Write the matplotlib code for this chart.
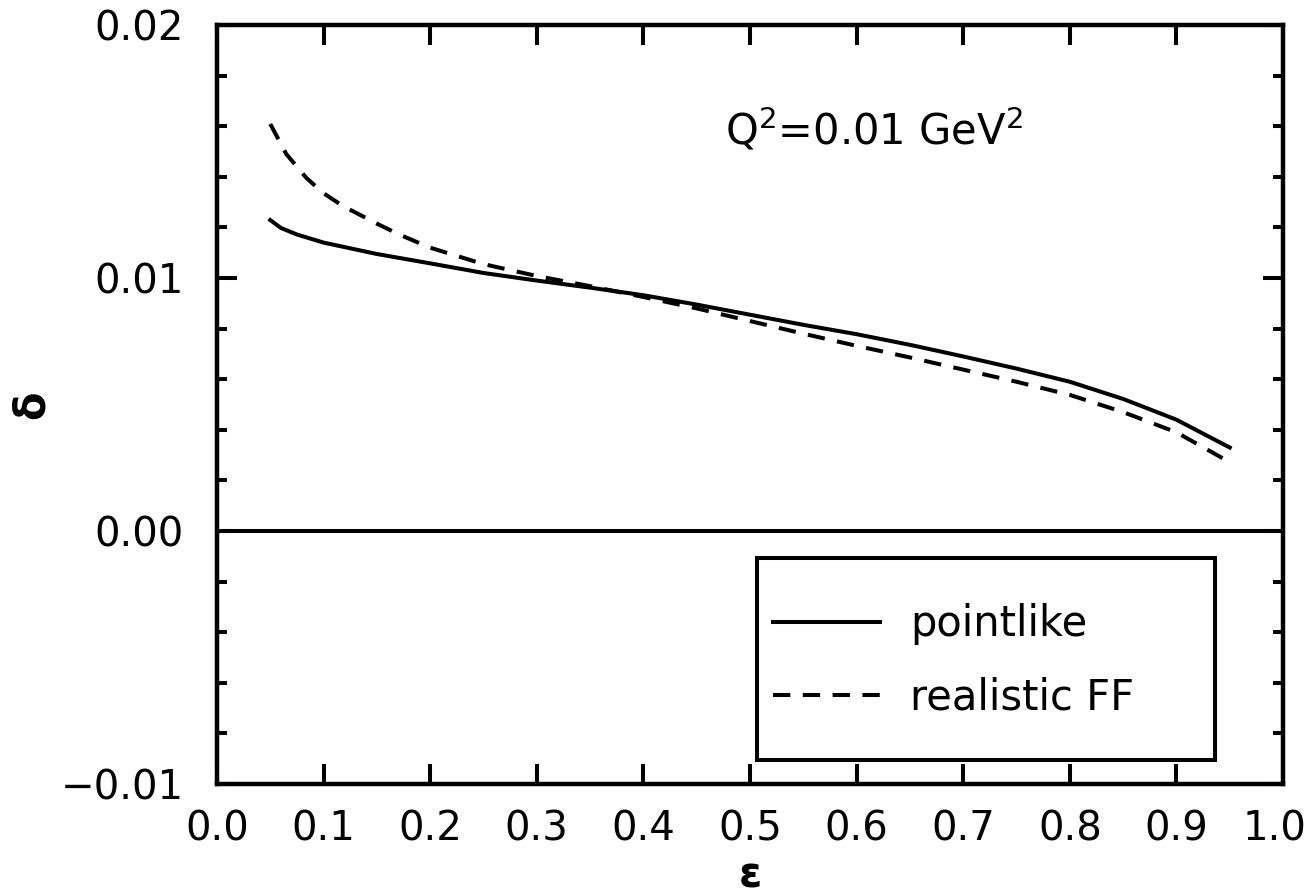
import matplotlib
matplotlib.use("Agg")
import matplotlib.pyplot as plt
from matplotlib.patches import Rectangle
from matplotlib.ticker import MultipleLocator
from matplotlib.transforms import ScaledTranslation

plt.rcParams['font.family'] = ['DejaVu Sans']
plt.rcParams['mathtext.fontset'] = 'dejavusans'

# epsilon grid and the two-photon correction delta
eps = [0.05, 0.06, 0.075, 0.10, 0.15, 0.20, 0.25, 0.30, 0.35, 0.40, 0.45,
       0.50, 0.55, 0.60, 0.65, 0.70, 0.75, 0.80, 0.85, 0.90, 0.95]
delta_point = [0.01229, 0.01198, 0.01172, 0.01140, 0.01095, 0.01058, 0.01020,
               0.00990, 0.00962, 0.00932, 0.00895, 0.00855, 0.00815, 0.00778,
               0.00736, 0.00690, 0.00642, 0.00590, 0.00522, 0.00440, 0.00330]
eps_ff = [0.05, 0.065, 0.084, 0.10, 0.118, 0.15, 0.172, 0.20, 0.25, 0.30,
          0.35, 0.40, 0.45, 0.50, 0.55, 0.60, 0.65, 0.70, 0.75, 0.80, 0.85,
          0.90, 0.95]
delta_ff = [0.01609, 0.01490, 0.01395, 0.01335, 0.01285, 0.01215, 0.01170,
            0.01120, 0.01055, 0.01008, 0.00968, 0.00925, 0.00880, 0.00830,
            0.00780, 0.00732, 0.00686, 0.00638, 0.00590, 0.00538, 0.00470,
            0.00390, 0.00272]

fs = 29
lw = 2.9
fig = plt.figure(figsize=(13.11, 8.94), dpi=100)
ax = fig.add_axes([0.1655, 0.1230, 0.8132, 0.8490])

ax.plot(eps, delta_point, color='black', lw=lw, label='pointlike')
ax.plot(eps_ff, delta_ff, color='black', lw=lw, dashes=(4.3, 3.1),
        label='realistic FF')
ax.axhline(0.0, color='black', lw=lw)

ax.set_xlim(0.0, 1.0)
ax.set_ylim(-0.01, 0.02)
ax.xaxis.set_major_locator(MultipleLocator(0.1))
ax.yaxis.set_major_locator(MultipleLocator(0.01))
ax.yaxis.set_minor_locator(MultipleLocator(0.002))
ax.xaxis.set_major_formatter(lambda v, p: f"{v:.1f}")
ax.yaxis.set_major_formatter(lambda v, p: f"{v:.2f}".replace('-', '\u2212'))

ax.tick_params(axis='both', which='both', direction='in', top=True,
               right=True, width=lw, labelsize=fs)
ax.tick_params(axis='x', which='major', length=14.5, pad=18)
ax.tick_params(axis='y', which='major', length=14.5, pad=24)
ax.tick_params(axis='y', which='minor', length=7.5)
for sp in ax.spines.values():
    sp.set_linewidth(3.2)

ax.set_xlabel('\u03b5', fontsize=fs + 1, fontweight='bold')
ax.set_ylabel('\u03b4', fontsize=fs + 1, fontweight='bold')
ax.xaxis.set_label_coords(0.5, -0.12)
ax.yaxis.set_label_coords(-0.1735, 0.5)
ax.xaxis.label.set_va('center')
ax.yaxis.label.set_va('center')

ax.text(0.616, 0.862, r'Q$^{2}$=0.01 GeV$^{2}$', transform=ax.transAxes,
        fontsize=fs + 1, ha='center', va='center')

# legend box
ax.add_patch(Rectangle((0.5066, 0.0316), 0.4296, 0.2662, transform=ax.transAxes,
                       fill=False, edgecolor='black', lw=lw, zorder=5))
ax.legend(loc='center left', bbox_to_anchor=(0.5216, 0.162), frameon=False,
          fontsize=fs + 1, handlelength=2.57, handletextpad=0.72,
          labelspacing=0.75, borderpad=0, borderaxespad=0)

# nudge the "1.0" label so it stays inside the figure
fig.canvas.draw()
for tick in ax.xaxis.get_major_ticks():
    if abs(tick.get_loc() - 1.0) < 1e-6:
        lab = tick.label1
        lab.set_transform(lab.get_transform()
                          + ScaledTranslation(-6 / 72, 0, fig.dpi_scale_trans))

fig.savefig('out.png', dpi=100)
